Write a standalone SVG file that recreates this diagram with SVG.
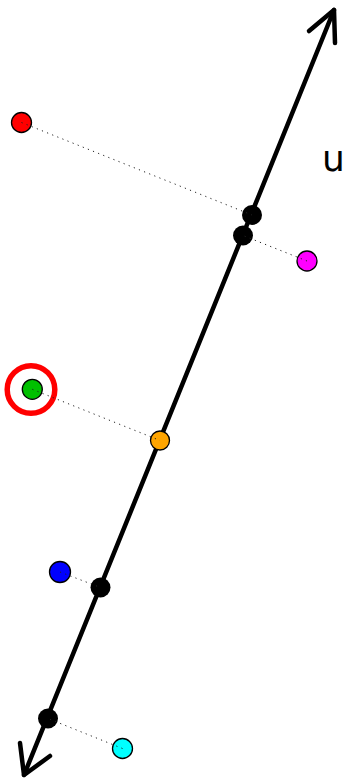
<svg xmlns="http://www.w3.org/2000/svg" width="346" height="780" viewBox="0 0 346 780">
  <style>
    .axis { stroke: #000; stroke-width: 4.5; stroke-linecap: round; stroke-linejoin: round; fill: none; }
    .proj { stroke: #222; stroke-width: 1; stroke-dasharray: 1.2 4.3; fill: none; }
    .pt { stroke: #000; stroke-width: 1.3; }
    .foot { fill: #000; }
    .label { font-family: "DejaVu Sans", "Liberation Sans", sans-serif; font-size: 36px; fill: #000; }
  </style>
  <rect width="346" height="780" fill="#fff"/>

  <!-- axis u with arrowheads at both ends -->
  <g id="axis-u">
    <line class="axis" x1="24" y1="775" x2="334" y2="10"/>
    <polyline class="axis" points="309,31 334,10 335,43"/>
    <polyline class="axis" points="20,743 24,775 50,756"/>
    <text class="label" x="322" y="171">u</text>
  </g>

  <!-- projected feet on the axis -->
  <g id="foot-red"><circle class="foot" cx="252" cy="215" r="10"/></g>
  <g id="foot-magenta"><circle class="foot" cx="243" cy="235.5" r="10"/></g>
  <g id="foot-blue"><circle class="foot" cx="100.5" cy="587.5" r="10"/></g>
  <g id="foot-cyan"><circle class="foot" cx="48" cy="718.5" r="10"/></g>

  <!-- sample points -->
  <g id="point-red"><circle class="pt" cx="21.5" cy="122.5" r="10" fill="#ff0000"/></g>
  <g id="point-magenta"><circle class="pt" cx="307" cy="261" r="10" fill="#ff00ff"/></g>
  <g id="point-green">
    <circle cx="31" cy="389.5" r="23.8" fill="none" stroke="#ff0000" stroke-width="5.5"/>
    <circle class="pt" cx="32.3" cy="389.3" r="10" fill="#00c000"/>
  </g>
  <g id="point-orange"><circle class="pt" cx="160" cy="440.5" r="9.5" fill="#ffa500"/></g>
  <g id="point-blue"><circle class="pt" cx="60" cy="572" r="10.5" fill="#0000ff"/></g>
  <g id="point-cyan"><circle class="pt" cx="122.5" cy="748.5" r="10" fill="#00ffff"/></g>

  <!-- projection connectors -->
  <g id="connectors">
    <line class="proj" x1="21.5" y1="122.5" x2="252" y2="215"/>
    <line class="proj" x1="307" y1="261" x2="243" y2="235.5"/>
    <line class="proj" x1="32.3" y1="389.3" x2="160" y2="440.5"/>
    <line class="proj" x1="60" y1="572" x2="100.5" y2="587.5"/>
    <line class="proj" x1="122.5" y1="748.5" x2="48" y2="718.5"/>
  </g>
</svg>
